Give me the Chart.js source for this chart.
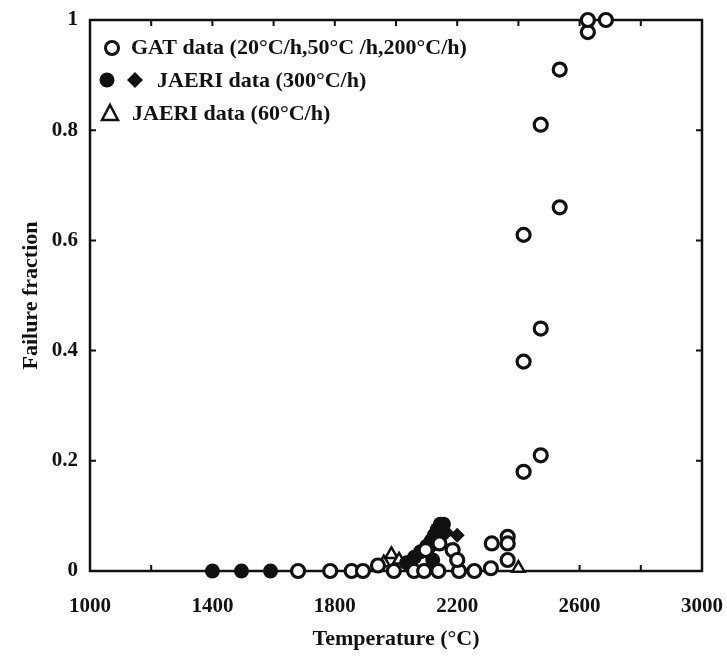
<!DOCTYPE html>
<html>
<head>
<meta charset="utf-8">
<script src="https://cdn.jsdelivr.net/npm/chart.js@4"></script>
<style>
  html, body { margin: 0; padding: 0; background: #fff; }
  #wrap { width: 727px; height: 657px; }
</style>
</head>
<body>
<div id="wrap"><canvas id="chart" width="727" height="657"></canvas></div>
<script>
// GAT data, open circles
const gatTemp = [1680, 1785, 1855, 1892, 1941, 1993, 2059, 2092, 2138, 2206, 2256, 2310,
  2097, 2142, 2185, 2200, 2313, 2365, 2365, 2365,
  2417, 2417, 2417, 2473, 2473, 2473, 2535, 2535, 2627, 2627, 2686]
const gatFrac = [0, 0, 0, 0, 0.01, 0, 0, 0, 0, 0, 0, 0.005,
  0.038, 0.05, 0.038, 0.02, 0.05, 0.062, 0.05, 0.02,
  0.18, 0.38, 0.61, 0.21, 0.44, 0.81, 0.66, 0.91, 0.978, 1.0, 1.0]

// JAERI 300 C/h, filled circles
const jaeriCircTemp = [1400, 1495, 1590, 2035, 2060, 2080, 2100, 2115, 2125, 2135, 2145, 2155, 2150, 2120]
const jaeriCircFrac = [0, 0, 0, 0.015, 0.025, 0.035, 0.045, 0.055, 0.065, 0.075, 0.085, 0.085, 0.07, 0.02]

// JAERI 300 C/h, diamonds
const jaeriDiaTemp = [2120, 2165, 2200]
const jaeriDiaFrac = [0.045, 0.07, 0.065]

// JAERI 60 C/h, open triangles
const jaeri60Temp = [1960, 1985, 2010, 2400]
const jaeri60Frac = [0.015, 0.03, 0.02, 0.005]

const xTicks = [1000, 1400, 1800, 2200, 2600, 3000]
const yTicks = [0, 0.2, 0.4, 0.6, 0.8, 1]

const ink = '#111'
const serif = '"Liberation Serif", "DejaVu Serif", serif'

function pts(xs, ys) {
  return xs.map((x, i) => ({ x, y: ys[i] }))
}

const frame = {
  id: 'frame',
  beforeDatasetsDraw(chart) {
    const { ctx, chartArea: a, scales } = chart
    ctx.save()
    ctx.strokeStyle = ink
    ctx.lineWidth = 2.5
    ctx.strokeRect(a.left, a.top, a.right - a.left, a.bottom - a.top)
    ctx.lineWidth = 2
    ctx.beginPath()
    for (let t = 1200; t < 3000; t += 200) {
      const px = scales.x.getPixelForValue(t)
      ctx.moveTo(px, a.bottom); ctx.lineTo(px, a.bottom - 6)
      ctx.moveTo(px, a.top); ctx.lineTo(px, a.top + 6)
    }
    yTicks.slice(1, -1).forEach((v) => {
      const py = scales.y.getPixelForValue(v)
      ctx.moveTo(a.left, py); ctx.lineTo(a.left + 6, py)
      ctx.moveTo(a.right, py); ctx.lineTo(a.right - 6, py)
    })
    ctx.stroke()
    ctx.restore()
  },
}

const legendBox = {
  id: 'legendBox',
  afterDraw(chart) {
    const { ctx } = chart
    ctx.save()
    ctx.strokeStyle = ink
    ctx.fillStyle = ink
    // open circle
    ctx.lineWidth = 3
    ctx.beginPath(); ctx.arc(112, 48, 6.5, 0, Math.PI * 2)
    ctx.fillStyle = '#fff'; ctx.fill(); ctx.stroke()
    // filled circle + diamond
    ctx.fillStyle = ink
    ctx.beginPath(); ctx.arc(107, 80, 7.5, 0, Math.PI * 2); ctx.fill()
    ctx.beginPath()
    ctx.moveTo(135, 72); ctx.lineTo(143, 80); ctx.lineTo(135, 88); ctx.lineTo(127, 80)
    ctx.closePath(); ctx.fill()
    // triangle
    ctx.lineWidth = 2.5
    ctx.beginPath()
    ctx.moveTo(110, 105); ctx.lineTo(118, 120); ctx.lineTo(102, 120)
    ctx.closePath(); ctx.stroke()

    ctx.font = 'bold 22px ' + serif
    ctx.textBaseline = 'middle'
    ctx.fillText('GAT data (20°C/h,50°C /h,200°C/h)', 131, 48)
    ctx.fillText('JAERI data (300°C/h)', 157, 81)
    ctx.fillText('JAERI data (60°C/h)', 132, 114)
    ctx.restore()
  },
}

new Chart(document.getElementById('chart'), {
  type: 'scatter',
  data: {
    datasets: [
      {
        label: 'GAT data',
        data: pts(gatTemp, gatFrac),
        pointStyle: 'circle',
        pointRadius: 6.5,
        pointBorderWidth: 3.2,
        pointBackgroundColor: '#fff',
        pointBorderColor: ink,
        clip: false,
      },
      {
        label: 'JAERI data (300°C/h)',
        data: pts(jaeriCircTemp, jaeriCircFrac),
        pointStyle: 'circle',
        pointRadius: 7.5,
        pointBorderWidth: 0,
        pointBackgroundColor: ink,
        pointBorderColor: ink,
        clip: false,
      },
      {
        label: 'JAERI data (300°C/h) diamonds',
        data: pts(jaeriDiaTemp, jaeriDiaFrac),
        pointStyle: 'rectRot',
        pointRadius: 7.5,
        pointBorderWidth: 0,
        pointBackgroundColor: ink,
        pointBorderColor: ink,
        clip: false,
      },
      {
        label: 'JAERI data (60°C/h)',
        data: pts(jaeri60Temp, jaeri60Frac),
        pointStyle: 'triangle',
        pointRadius: 7,
        pointBorderWidth: 2.5,
        pointBackgroundColor: '#fff',
        pointBorderColor: ink,
        clip: false,
      },
    ],
  },
  options: {
    responsive: false,
    animation: false,
    layout: { padding: { left: 0, right: 25, top: 20, bottom: 0 } },
    plugins: {
      legend: { display: false },
      tooltip: { enabled: false },
    },
    scales: {
      x: {
        type: 'linear',
        min: 1000,
        max: 3000,
        afterFit: (s) => { s.height = 86; s.paddingLeft = 0; s.paddingRight = 0 },
        afterBuildTicks: (s) => { s.ticks = xTicks.map((v) => ({ value: v })) },
        grid: { drawOnChartArea: false, drawTicks: false },
        border: { display: false },
        ticks: {
          color: ink,
          padding: 23,
          font: { family: serif, size: 21, weight: 'bold' },
          maxRotation: 0,
          callback: (v) => String(v),
        },
        title: {
          display: true,
          text: 'Temperature (°C)',
          color: ink,
          font: { family: serif, size: 22, weight: 'bold' },
          padding: { top: 4, bottom: 4 },
        },
      },
      y: {
        type: 'linear',
        min: 0,
        max: 1,
        afterFit: (s) => { s.width = 90; s.paddingTop = 0; s.paddingBottom = 0 },
        afterBuildTicks: (s) => { s.ticks = yTicks.map((v) => ({ value: v })) },
        grid: { drawOnChartArea: false, drawTicks: false },
        border: { display: false },
        ticks: {
          color: ink,
          padding: 12,
          font: { family: serif, size: 21, weight: 'bold' },
          callback: (v) => String(v),
        },
        title: {
          display: true,
          text: 'Failure fraction',
          color: ink,
          font: { family: serif, size: 22, weight: 'bold' },
          padding: { top: 18, bottom: 0 },
        },
      },
    },
  },
  plugins: [frame, legendBox],
})
</script>
</body>
</html>
